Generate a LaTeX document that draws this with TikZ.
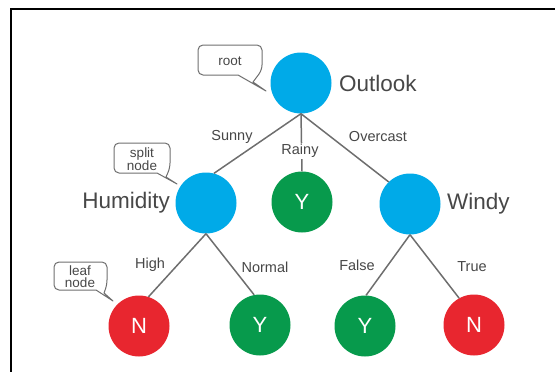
\documentclass[tikz,border=0pt]{standalone}
\usepackage{fontspec}
\setmainfont{Liberation Sans}
\definecolor{cblue}{HTML}{00AAE8}
\definecolor{cgreen}{HTML}{079A4C}
\definecolor{cred}{HTML}{E8262F}
\definecolor{ctext}{HTML}{474747}
\definecolor{cline}{HTML}{6E6E6E}
\begin{document}
\begin{tikzpicture}[x=1pt,y=-1pt,
  splitnode/.style={circle, fill=cblue, minimum size=61pt, inner sep=0pt},
  yesleaf/.style={circle, fill=cgreen, minimum size=61pt, inner sep=0pt, text=white, font=\fontsize{22}{24}\selectfont},
  noleaf/.style={circle, fill=cred, minimum size=61pt, inner sep=0pt, text=white, font=\fontsize{22}{24}\selectfont},
  bigname/.style={text=ctext, inner sep=0pt, font=\fontsize{22.5}{25}\selectfont},
  edgelbl/.style={text=ctext, inner sep=1pt, fill=white, font=\fontsize{14.5}{16}\selectfont},
  calltext/.style={text=ctext, inner sep=0pt, align=center, font=\fontsize{13.5}{12}\selectfont},
  bubble/.style={draw=cline, line width=1pt, line join=round},
  branch/.style={draw=cline, line width=1.5pt}]
\useasboundingbox (0,0) rectangle (555,372);
\draw[line width=2pt] (11,372) -- (11,9) -- (555,9);

% nodes
\node[splitnode] (outlook) at (301,83) {};
\node[splitnode] (humidity) at (206,203) {};
\node[yesleaf] (rainyY) at (302,202) {Y};
\node[splitnode] (windy) at (410,204) {};
\node[noleaf] (highN) at (139,326) {N};
\node[yesleaf] (normalY) at (260,325) {Y};
\node[yesleaf] (falseY) at (365,326) {Y};
\node[noleaf] (trueN) at (474,325) {N};

% names
\node[bigname, anchor=west] (outlookname) at (339,83) {Outlook};
\node[bigname, anchor=east] (humname) at (170,203) {Humidity};
\node[bigname, anchor=west] (windyname) at (447,204) {Windy};

% branches
\draw[branch] (outlook.south) -- (humidity.75);
\draw[branch] (outlook.south) -- (rainyY.north);
\draw[branch] (outlook.south) -- (windy.134);
\draw[branch] (humidity.south) -- (highN.72);
\draw[branch] (humidity.south) -- (normalY.101);
\draw[branch] (windy.south) -- (falseY.88);
\draw[branch] (windy.south) -- (trueN.119);

% branch labels
\node[edgelbl] (lsunny) at (232,137) {Sunny};
\node[edgelbl] (lrainy) at (300,151) {Rainy};
\node[edgelbl] (lover) at (378,137) {Overcast};
\node[edgelbl] (lhigh) at (150,265) {High};
\node[edgelbl] (lnormal) at (265,267) {Normal};
\node[edgelbl] (lfalse) at (357,265) {False};
\node[edgelbl] (ltrue) at (472,267) {True};

% callouts
\draw[bubble, rounded corners=5pt] (198,45) -- (262,45) -- (262,70) [sharp corners] -- (253,82) -- (266,91) -- (238,75) [rounded corners=5pt] -- (198,75) -- cycle;
\node[calltext] (rootc) at (230,61) {root};

\draw[bubble, rounded corners=5pt] (114,143) -- (170,143) -- (170,168) [sharp corners] -- (166,177) -- (177,184) -- (157,173) [rounded corners=5pt] -- (114,173) -- cycle;
\node[calltext] (splitc) at (142,159) {split\\node};

\draw[bubble, rounded corners=5pt] (54,262) -- (107,262) -- (107,285) [sharp corners] -- (104,293) -- (113,301) -- (96,290) [rounded corners=5pt] -- (54,290) -- cycle;
\node[calltext] (leafc) at (80,277) {leaf\\node};
\end{tikzpicture}
\end{document}
